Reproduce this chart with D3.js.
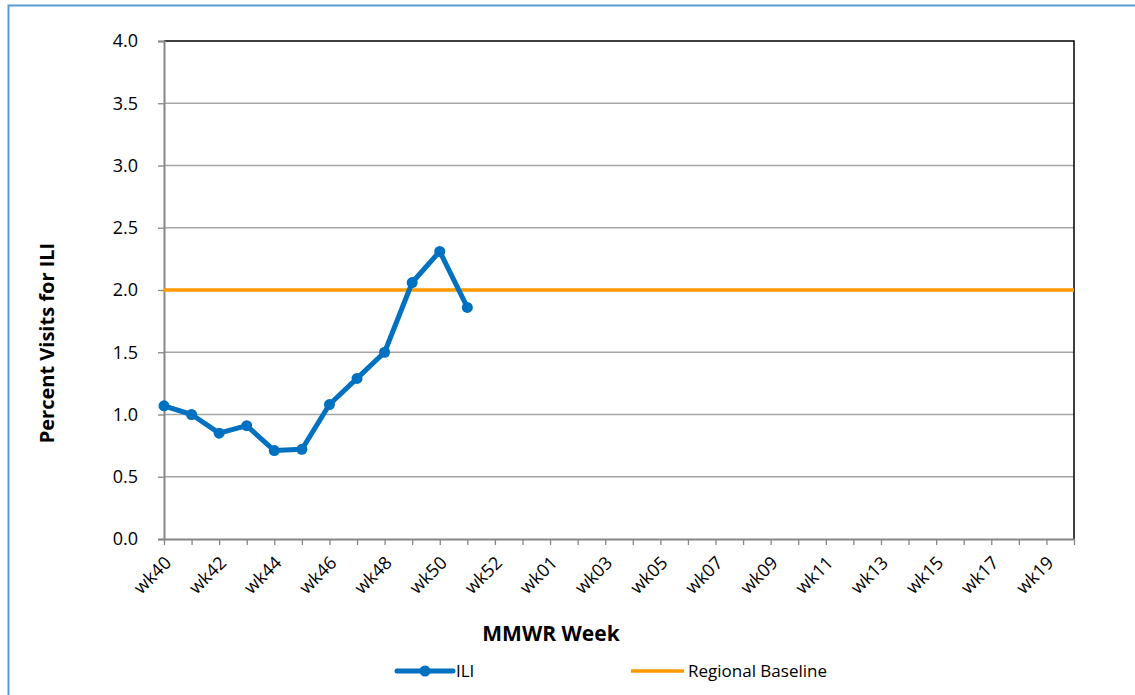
<!DOCTYPE html>
<html>
<head>
<meta charset="utf-8">
<script src="https://cdn.jsdelivr.net/npm/d3@7"></script>
<style>
  body { margin: 0; background: #fff; }
  text { font-family: "Open Sans", "Noto Sans", sans-serif; fill: #000; }
  .title { font-weight: bold; }
</style>
</head>
<body>
<div id="chart"></div>
<script>
// weeks on the x axis (season has a week 53)
const weeks = ["wk40","wk41","wk42","wk43","wk44","wk45","wk46","wk47","wk48","wk49","wk50","wk51","wk52","wk53",
  "wk01","wk02","wk03","wk04","wk05","wk06","wk07","wk08","wk09","wk10","wk11","wk12","wk13","wk14",
  "wk15","wk16","wk17","wk18","wk19","wk20"];
const iliValues = [1.07, 1.0, 0.85, 0.91, 0.71, 0.72, 1.08, 1.29, 1.50, 2.06, 2.31, 1.86];
const baseline = 2.0;
const yTicks = [0, 0.5, 1.0, 1.5, 2.0, 2.5, 3.0, 3.5, 4.0];

const W = 1135, H = 695;
const plot = { left: 164, right: 1074, top: 41, bottom: 539 };

const svg = d3.select("#chart").append("svg")
  .attr("width", W).attr("height", H);

// outer frame (blue)
svg.append("path")
  .attr("d", `M8.5,${H} L8.5,5.5 L${W},5.5`)
  .attr("fill", "none").attr("stroke", "#5b9bd5").attr("stroke-width", 2);

const x = d3.scalePoint().domain(weeks).range([plot.left, plot.right]);
const y = d3.scaleLinear().domain([0, 4]).range([plot.bottom, plot.top]);

// gridlines
svg.append("g")
  .selectAll("line")
  .data(yTicks.filter(d => d > 0 && d < 4))
  .enter().append("line")
  .attr("x1", plot.left).attr("x2", plot.right)
  .attr("y1", d => y(d)).attr("y2", d => y(d))
  .attr("stroke", "#a6a6a6").attr("stroke-width", 1.3);

// top and right border
svg.append("path")
  .attr("d", `M${plot.left},${y(4)} L${plot.right},${y(4)} L${plot.right},${plot.bottom}`)
  .attr("fill", "none").attr("stroke", "#000").attr("stroke-width", 1.5);

// y axis
const yAxis = svg.append("g")
  .attr("transform", `translate(${plot.left},0)`)
  .call(d3.axisLeft(y).tickValues(yTicks).tickFormat(d3.format(".1f")).tickSize(6).tickPadding(20));
yAxis.select(".domain").attr("stroke", "#868686").attr("stroke-width", 2);
yAxis.selectAll(".tick line").attr("stroke", "#868686").attr("stroke-width", 1.3);
yAxis.selectAll(".tick text").style("font-size", "18px").style("font-family", "'Open Sans', sans-serif").attr("fill", "#000");

// x axis
const xAxis = svg.append("g")
  .attr("transform", `translate(0,${plot.bottom})`)
  .call(d3.axisBottom(x).tickSize(6).tickSizeOuter(0)
    .tickFormat((d, i) => i % 2 === 0 ? d : ""));
xAxis.select(".domain").attr("stroke", "#868686").attr("stroke-width", 2);
xAxis.selectAll(".tick line").attr("stroke", "#868686").attr("stroke-width", 1.3);
xAxis.selectAll(".tick text")
  .style("font-size", "18px").style("font-family", "'Open Sans', sans-serif").attr("fill", "#000")
  .attr("text-anchor", "end")
  .attr("x", 0).attr("y", 0)
  .attr("dy", "0.7em")
  .attr("transform", "translate(-1,16) rotate(-45)");

// baseline
svg.append("line")
  .attr("x1", plot.left).attr("x2", plot.right)
  .attr("y1", y(baseline)).attr("y2", y(baseline))
  .attr("stroke", "#ff9900").attr("stroke-width", 3.5);

// ILI line
const iliData = iliValues.map((v, i) => ({ week: weeks[i], value: v }));
svg.append("path")
  .datum(iliData)
  .attr("fill", "none").attr("stroke", "#0070c0").attr("stroke-width", 5)
  .attr("stroke-linejoin", "round")
  .attr("d", d3.line().x(d => x(d.week)).y(d => y(d.value)));
svg.append("g").selectAll("circle")
  .data(iliData).enter().append("circle")
  .attr("cx", d => x(d.week)).attr("cy", d => y(d.value))
  .attr("r", 5.5).attr("fill", "#0070c0");

// axis titles
svg.append("text")
  .attr("class", "title")
  .attr("x", 551).attr("y", 641)
  .attr("text-anchor", "middle")
  .style("font-size", "21px")
  .text("MMWR Week");

svg.append("text")
  .attr("class", "title")
  .attr("transform", "translate(54,343) rotate(-90)")
  .attr("text-anchor", "middle")
  .style("font-size", "20px")
  .text("Percent Visits for ILI");

// legend
const legend = svg.append("g");
legend.append("line")
  .attr("x1", 397).attr("x2", 453).attr("y1", 671).attr("y2", 671)
  .attr("stroke", "#0070c0").attr("stroke-width", 5).attr("stroke-linecap", "round");
legend.append("circle").attr("cx", 425).attr("cy", 671).attr("r", 5.5).attr("fill", "#0070c0");
legend.append("text").attr("x", 456).attr("y", 677).style("font-size", "17px").text("ILI");

legend.append("line")
  .attr("x1", 631).attr("x2", 684).attr("y1", 671).attr("y2", 671)
  .attr("stroke", "#ff9900").attr("stroke-width", 3.5);
legend.append("text").attr("x", 688).attr("y", 677).style("font-size", "17px").text("Regional Baseline");
</script>
</body>
</html>
